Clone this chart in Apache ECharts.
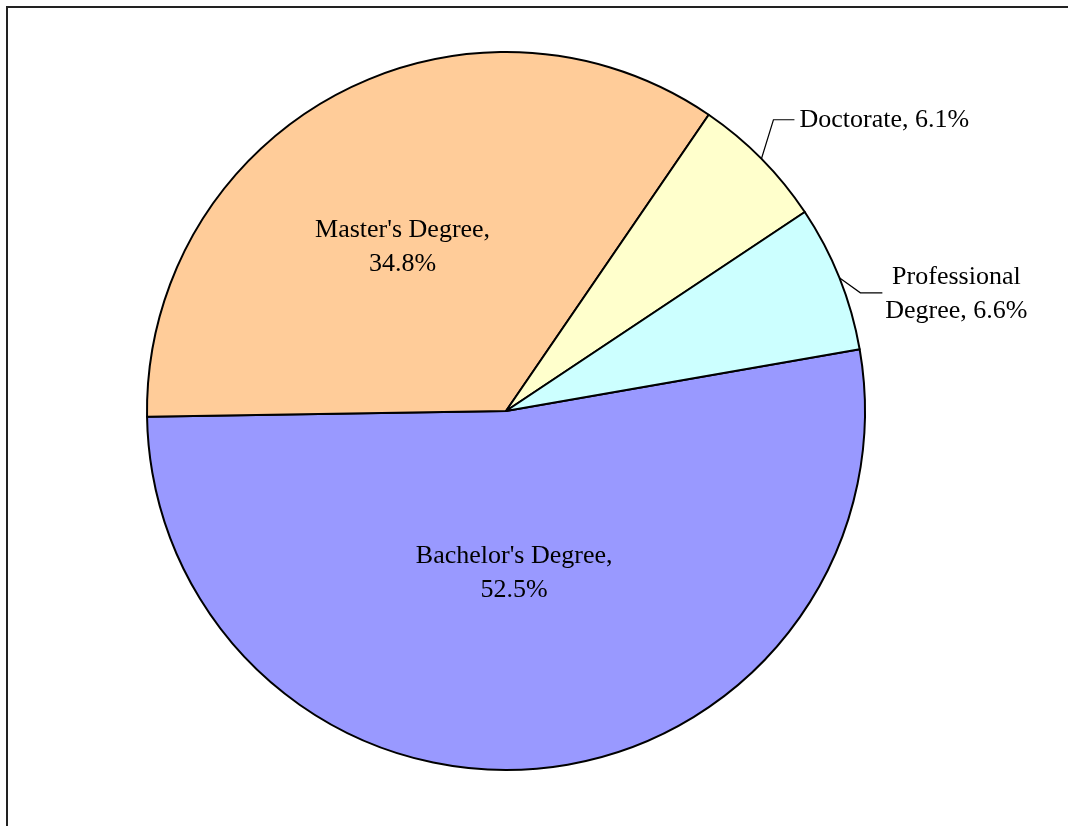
<!DOCTYPE html>
<html>
<head>
<meta charset="utf-8">
<style>
    html, body { margin: 0; padding: 0; background: #fff; }
    #main { width: 1068px; height: 826px; }
</style>
<script src="https://cdn.jsdelivr.net/npm/echarts@6/dist/echarts.min.js"></script>
</head>
<body>
<div id="main"></div>
<script>
    // degree shares (%)
    var degreeNames = ["Bachelor's Degree", "Master's Degree", "Doctorate", "Professional Degree"];
    var degreeShares = [52.5, 34.8, 6.1, 6.6];
    var sliceColors = ['#9999FF', '#FFCC99', '#FFFFCC', '#CCFFFF'];
    var outsideLabel = [false, false, true, true];

    var chart = echarts.init(document.getElementById('main'));

    var pieData = degreeNames.map(function (name, i) {
        return {
            name: name,
            value: degreeShares[i],
            itemStyle: { color: sliceColors[i] },
            label: { position: outsideLabel[i] ? 'outside' : 'inside' },
            labelLine: { show: outsideLabel[i] }
        };
    });

    function labelText(p) {
        var pct = p.value.toFixed(1) + '%';
        if (!outsideLabel[p.dataIndex]) return p.name + ',\n' + pct;
        if (p.name.indexOf(' ') > 0) return p.name.replace(' ', '\n') + ', ' + pct;
        return p.name + ', ' + pct;
    }

    var option = {
        backgroundColor: '#fff',
        animation: false,
        graphic: [{
            type: 'polyline',
            shape: { points: [[7, 826], [7, 7], [1068, 7]] },
            style: { stroke: '#222', lineWidth: 2, fill: null }
        }],
        series: [{
            type: 'pie',
            center: [506, 411],
            radius: 359,
            startAngle: 9.9,
            clockwise: true,
            avoidLabelOverlap: false,
            itemStyle: { borderColor: '#000', borderWidth: 2 },
            label: {
                fontFamily: 'Liberation Serif',
                fontSize: 26,
                lineHeight: 34,
                color: '#000',
                align: 'center',
                formatter: labelText
            },
            labelLine: {
                length: 20,
                length2: 20,
                lineStyle: { color: '#000', width: 1.2 }
            },
            labelLayout: function (params) {
                var i = params.dataIndex;
                var p = params.labelLinePoints;
                if (!outsideLabel[i] || !p) {
                    // nudge inside labels toward Excel's spot
                    return i === 0 ? { dx: -9, dy: -20 } : { dx: -17, dy: -3 };
                }
                var x0 = p[0][0], y0 = p[0][1];
                if (i === 2) {
                    return {
                        x: x0 + 38, y: y0 - 39, align: 'left', verticalAlign: 'middle',
                        labelLinePoints: [[x0, y0], [x0 + 12, y0 - 39], [x0 + 33, y0 - 39]]
                    };
                }
                return {
                    x: x0 + 117, y: y0 + 16, align: 'center', verticalAlign: 'middle',
                    labelLinePoints: [[x0, y0], [x0 + 21, y0 + 15], [x0 + 43, y0 + 15]]
                };
            },
            emphasis: { disabled: true },
            data: pieData
        }]
    };

    chart.setOption(option);
</script>
</body>
</html>
